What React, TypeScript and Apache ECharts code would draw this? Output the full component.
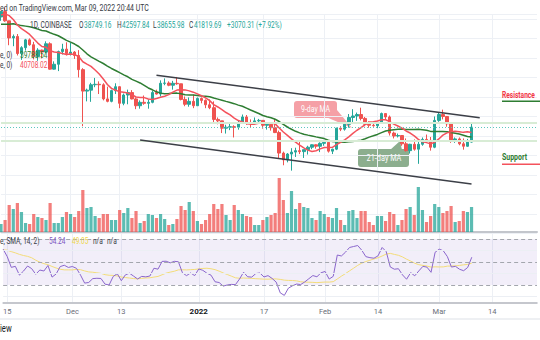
import React, { useEffect, useRef } from "react";
import * as echarts from "echarts";

// ---------- data ----------
const startDate = "2021-11-14";
const futureDays = 16; // empty days to the right of the last candle (to Mar 25)

const opens = [
  64400, 65500, 63600, 60100, 60400, 56900, 58100, 59700, 58700, 56300, 57600, 57200, 58900, 53700, 54700, 57300, 57800,
  56900, 57200, 56500, 53600, 49200, 49400, 50500, 50600, 50500, 47600, 47100, 49300, 50100, 46700, 48400, 48900, 47600,
  46200, 46900, 46700, 46900, 48900, 48600, 50800, 50850, 50400, 50800, 50700, 47500, 46500, 47100,
  46200, 47700, 47300, 46400, 45800, 43400, 43100, 41600, 41800, 41900, 41800, 42700, 43900, 42600, 42500, 43100, 43200,
  42200, 42400, 41700, 40700, 36500, 35100, 36300, 36700, 37000, 36800, 37200, 37700, 38200, 37900,
  38500, 38700, 36900, 37300, 41600, 41400, 42400, 43800, 44100, 44400, 43600, 42400, 42200, 42100, 42600, 44600, 43900,
  40600, 40000, 40100, 38400, 37000, 38300, 37300, 38300, 39300, 39100, 37700,
  43200, 44400, 44000, 42500, 39200, 39400, 38400, 37900, 38749.16,
];
const highs = [
  65500, 66300, 63600, 60800, 60900, 58400, 59900, 60000, 59300, 58000, 57700, 59400, 59200, 55300, 57500, 58900, 59200,
  59100, 57400, 57600, 53900, 49700, 50900, 51900, 51200, 50800, 50100, 49500, 50800, 50200, 48700, 49500, 49400, 47900,
  47300, 48300, 47500, 49300, 49500, 51400, 51800, 51200, 51300, 52100, 50700, 48100, 47900, 48500,
  47900, 47900, 47500, 47500, 47100, 43800, 43100, 42300, 42800, 42200, 43100, 44400, 44300, 43400, 43800, 43500, 43200,
  42700, 42600, 43500, 41100, 36800, 36500, 37500, 37600, 38900, 37200, 38000, 38300, 38300, 38700,
  39200, 38900, 37400, 41700, 42000, 42700, 44500, 45500, 44800, 45800, 43900, 43000, 42800, 42900, 44800, 44600, 44200,
  40900, 40500, 40200, 39500, 38400, 39300, 39000, 39700, 40300, 39800, 44000,
  44900, 45400, 44100, 42500, 39700, 39700, 39500, 39400, 42597.84,
];
const lows = [
  63600, 63400, 58600, 58400, 56500, 55600, 57500, 58500, 55700, 55400, 55900, 57000, 53600, 53600, 53300, 56700, 56500,
  56500, 55800, 52000, 42000, 47100, 47000, 50000, 48600, 47300, 46900, 46900, 48600, 45700, 46300, 46500, 47500, 45500,
  45600, 46400, 45600, 46700, 48500, 48100, 50400, 50200, 49500, 50500, 47300, 46100, 46000, 45700,
  46200, 46700, 45700, 45500, 42500, 42400, 40600, 40500, 41200, 39700, 41300, 42500, 42300, 41800, 42400, 42600, 41500,
  41300, 41100, 40600, 35500, 34000, 34600, 32900, 35700, 36300, 35500, 36200, 37300, 37400, 36700,
  38000, 36600, 36300, 37100, 41000, 41100, 41700, 42700, 43100, 43200, 42000, 41700, 41900, 41600, 42500, 43300, 40100,
  39500, 39700, 38000, 36800, 36400, 37000, 34300, 38000, 38600, 37000, 37500,
  42900, 43400, 41900, 38600, 38600, 38100, 37200, 37800, 38655.98,
];
const closes = [
  65500, 63600, 60100, 60400, 56900, 58100, 59700, 58700, 56300, 57600, 57200, 58900, 53700, 54700, 57300, 57800, 56900,
  57200, 56500, 53600, 49200, 49400, 50500, 50600, 50500, 47600, 47100, 49300, 50100, 46700, 48400, 48900, 47600, 46200,
  46900, 46700, 46900, 48900, 48600, 50800, 50850, 50400, 50800, 50700, 47500, 46500, 47100, 46200,
  47700, 47300, 46400, 45800, 43400, 43100, 41600, 41800, 41900, 41800, 42700, 43900, 42600, 42500, 43100, 43200, 42200,
  42400, 41700, 40700, 36500, 35100, 36300, 36700, 37000, 36800, 37200, 37700, 38200, 37900, 38500,
  38700, 36900, 37300, 41600, 41400, 42400, 43800, 44100, 44400, 43600, 42400, 42200, 42100, 42600, 44600, 43900, 40600,
  40000, 40100, 38400, 37000, 38300, 37300, 38300, 39300, 39100, 37700, 43200,
  44400, 44000, 42500, 39200, 39400, 38400, 37900, 38749.16, 41819.69,
];
const volumes = [
  8000, 12000, 27000, 23000, 29000, 20000, 9000, 8000, 18000, 15000, 14000, 12000, 29000, 9000, 9000, 15000, 20000,
  18000, 15000, 21000, 42000, 24000, 25000, 16000, 14000, 18000, 18000, 12000, 12000, 22000, 19000, 24000, 14000, 21000,
  9000, 11000, 18000, 17000, 14000, 18000, 13000, 7000, 8000, 13000, 26000, 22000, 30000, 21000,
  11000, 8000, 12000, 18000, 28000, 23000, 28000, 17000, 12000, 27000, 22000, 18000, 16000, 15000, 7000, 7000, 12000,
  15000, 17000, 19000, 54000, 32000, 19000, 41000, 23000, 29000, 25000, 24000, 14000, 12000, 21000,
  18000, 15000, 14000, 24000, 12000, 7000, 21000, 22000, 14000, 21000, 21000, 10000, 7000, 16000, 16000, 11000, 20000,
  18000, 7000, 12000, 23000, 25000, 17000, 45000, 22000, 10000, 16000, 28000,
  25000, 19000, 21000, 26000, 10000, 11000, 21000, 20000, 25000,
];
// closes of Oct 1 - Nov 13 2021, only used to warm up the moving averages and RSI
const priorCloses = [
  48100, 47700, 48200, 49200, 51500, 55300, 53800, 53900, 55000, 54700, 57500, 56000, 57400, 57300, 61700, 60900, 61500,
  62000, 64300, 66000, 62200, 60700, 61300, 60900, 63100, 60400, 58500, 60600, 62300, 61900, 61300, 61000, 63300, 62900,
  61400, 61000, 61500, 63300, 67600, 66900, 64900, 64800, 64200, 64400,
];
const tickLabels: Record<string, string> = {
  "2021-11-15": "15",
  "2021-12-01": "Dec",
  "2021-12-13": "13",
  "2022-01-01": "2022",
  "2022-01-17": "17",
  "2022-02-01": "Feb",
  "2022-02-14": "14",
  "2022-03-01": "Mar",
  "2022-03-14": "14",
};
const upperChannel: [string, number][] = [["2021-12-22", 52460], ["2022-03-11", 43720]];
const lowerChannel: [string, number][] = [["2021-12-18", 39160], ["2022-03-09", 30150]];
const levelLines = [42800, 38950];
const lastPrice = 41819.69;

// ---------- helpers ----------
function buildDates(start: string, n: number): string[] {
  const out: string[] = [];
  const d0 = new Date(start + "T00:00:00Z").getTime();
  for (let i = 0; i < n; i++) out.push(new Date(d0 + i * 86400000).toISOString().slice(0, 10));
  return out;
}
function sma(values: (number | null)[], period: number): (number | null)[] {
  return values.map((_, i) => {
    if (i < period - 1) return null;
    let s = 0;
    for (let k = i - period + 1; k <= i; k++) {
      const v = values[k];
      if (v == null) return null;
      s += v;
    }
    return s / period;
  });
}
function rsi(values: number[], period: number): (number | null)[] {
  const out: (number | null)[] = values.map(() => null);
  let ag = 0;
  let al = 0;
  for (let i = 1; i < values.length; i++) {
    const ch = values[i] - values[i - 1];
    const g = Math.max(ch, 0);
    const l = Math.max(-ch, 0);
    if (i <= period) {
      ag += g / period;
      al += l / period;
    } else {
      ag = (ag * (period - 1) + g) / period;
      al = (al * (period - 1) + l) / period;
    }
    if (i >= period) out[i] = al === 0 ? 100 : 100 - 100 / (1 + ag / al);
  }
  return out;
}

const UP = "#26a69a";
const DOWN = "#ef5350";
const FONT = "Roboto, 'DejaVu Sans', sans-serif";
const SX = 0.77; // the screenshot is horizontally condensed

function txt(x: number, y: number, text: string, fill: string, size = 8.5, extra: any = {}) {
  return {
    type: "text",
    x,
    y,
    scaleX: SX,
    z: 100,
    silent: true,
    style: { text, fill, fontSize: size, fontFamily: FONT, align: "left", verticalAlign: "middle", ...extra },
  };
}

export default function App() {
  const ref = useRef<HTMLDivElement>(null);

  useEffect(() => {
    document.body.style.margin = "0";
    if (!ref.current) return;
    const chart = echarts.init(ref.current, undefined, { renderer: "svg" });

    const n = closes.length;
    const dates = buildDates(startDate, n + futureDays);
    const allCloses = [...priorCloses, ...closes];
    const off = priorCloses.length;
    const ma9 = sma(allCloses, 9).slice(off);
    const ma21 = sma(allCloses, 21).slice(off);
    const rsiAll = rsi(allCloses, 14);
    const rsiMa = sma(rsiAll, 14).slice(off);
    const rsiVals = rsiAll.slice(off);

    const candle = opens.map((o, i) => [o, closes[i], lows[i], highs[i]]);
    const vol = volumes.map((v, i) => ({
      value: v,
      itemStyle: { color: closes[i] >= opens[i] ? "rgba(38,166,154,0.75)" : "rgba(239,83,80,0.75)" },
    }));

    const isTick = (_: number, v: string) => v in tickLabels;
    const gridX = { left: 1, width: 536 };
    const xBase = (gridIndex: number, labels: boolean, axisLine: any) => ({
      type: "category",
      gridIndex,
      data: dates,
      boundaryGap: false,
      axisTick: { show: false },
      axisLine,
      splitLine: { show: true, interval: isTick, lineStyle: { color: "#edf0f5", width: 1 } },
      axisLabel: labels
        ? {
            show: true,
            interval: isTick,
            formatter: (v: string) => (v === "2022-01-01" ? "{b|2022}" : tickLabels[v] || ""),
            color: "#6a6d78",
            fontSize: 7.5,
            fontFamily: FONT,
            margin: 5,
            rich: { b: { fontWeight: "bold", color: "#131722", fontSize: 8, fontFamily: FONT } },
          }
        : { show: false },
    });

    const option: any = {
      animation: false,
      backgroundColor: "#ffffff",
      textStyle: { fontFamily: FONT },
      grid: [
        { ...gridX, top: 14, height: 219.6 },
        { ...gridX, top: 120, height: 112 },
        { ...gridX, top: 233.25, height: 69 },
      ],
      xAxis: [
        xBase(0, false, { show: false }),
        xBase(1, false, { show: true, lineStyle: { color: "#c3c6cc", width: 2 } }),
        xBase(2, true, { show: true, lineStyle: { color: "#b2b5bd", width: 1.5 } }),
      ],
      yAxis: [
        {
          gridIndex: 0,
          min: 20000,
          max: 65000,
          interval: 4000,
          axisLabel: { show: false },
          axisLine: { show: false },
          axisTick: { show: false },
          splitLine: { show: true, lineStyle: { color: "#edf0f5" } },
        },
        { gridIndex: 1, min: 0, max: 112000, show: false, splitLine: { show: false } },
        { gridIndex: 2, min: 15, max: 75, show: false, splitLine: { show: false } },
      ],
      series: [
        {
          type: "bar",
          xAxisIndex: 1,
          yAxisIndex: 1,
          data: vol,
          barWidth: 3.2,
          z: 1,
        },
        {
          type: "candlestick",
          xAxisIndex: 0,
          yAxisIndex: 0,
          data: candle,
          barWidth: 3,
          z: 3,
          itemStyle: { color: UP, color0: DOWN, borderColor: UP, borderColor0: DOWN, borderWidth: 1 },
          markLine: {
            silent: true,
            symbol: ["none", "none"],
            label: { show: false },
            animation: false,
            data: [
              ...levelLines.map((p) => ({ yAxis: p, lineStyle: { color: "#d8ecd5", width: 2, type: "solid" } })),
              { yAxis: lastPrice, lineStyle: { color: "#5cc7bd", width: 1, type: [1, 2] } },
              [
                { coord: upperChannel[0], lineStyle: { color: "#3c3f47", width: 1.5, type: "solid" } },
                { coord: upperChannel[1] },
              ],
              [
                { coord: lowerChannel[0], lineStyle: { color: "#3c3f47", width: 1.5, type: "solid" } },
                { coord: lowerChannel[1] },
              ],
            ],
          },
        },
        {
          type: "line",
          name: "MA21",
          xAxisIndex: 0,
          yAxisIndex: 0,
          data: ma21,
          showSymbol: false,
          z: 4,
          lineStyle: { color: "#2e7d32", width: 1.5 },
        },
        {
          type: "line",
          name: "MA9",
          xAxisIndex: 0,
          yAxisIndex: 0,
          data: ma9,
          showSymbol: false,
          z: 4,
          lineStyle: { color: "#f4525c", width: 1.5 },
        },
        {
          type: "line",
          name: "RSI",
          xAxisIndex: 2,
          yAxisIndex: 2,
          data: rsiVals,
          showSymbol: false,
          z: 4,
          lineStyle: { color: "#8a66cc", width: 1 },
          markArea: {
            silent: true,
            itemStyle: { color: "rgba(126,87,194,0.1)" },
            data: [[{ yAxis: 30 }, { yAxis: 70 }]],
          },
          markLine: {
            silent: true,
            symbol: ["none", "none"],
            label: { show: false },
            data: [
              ...[20, 40, 60].map((v) => ({ yAxis: v, lineStyle: { color: "#eceff4", width: 1, type: "solid" } })),
              ...[30, 50, 70].map((v) => ({ yAxis: v, lineStyle: { color: "#a3a6ad", width: 1, type: [4, 3] } })),
            ],
          },
        },
        {
          type: "line",
          name: "RSI MA",
          xAxisIndex: 2,
          yAxisIndex: 2,
          data: rsiMa,
          showSymbol: false,
          z: 3,
          lineStyle: { color: "#f3dc78", width: 1 },
        },
      ],
      graphic: [
        { type: "rect", shape: { x: 0, y: 318, width: 540, height: 2 }, style: { fill: "#eef0f3" }, silent: true },
        txt(0, 8, "ed on TradingView.com, Mar 09, 2022 20:44 UTC", "#363a45", 9),
        txt(30, 25, "1D, COINBASE", "#363a45"),
        txt(79, 25, "O", "#363a45"),
        txt(84, 25, "38749.16", UP),
        txt(117, 25, "H", "#363a45"),
        txt(122, 25, "42597.84", UP),
        txt(153, 25, "L", "#363a45"),
        txt(157, 25, "38655.98", UP),
        txt(189, 25, "C", "#363a45"),
        txt(194, 25, "41819.69", UP),
        txt(227, 25, "+3070.31 (+7.92%)", UP),
        txt(0, 55, "e, 0)", "#363a45"),
        txt(20, 55, "39788.54", "#2e7d32"),
        txt(0, 65, "e, 0)", "#363a45"),
        txt(20, 65, "40708.02", "#f4525c"),
        txt(0, 241, "e, SMA, 14, 2)", "#363a45"),
        txt(49, 241, "54.24", "#7e57c2"),
        txt(72, 241, "49.05", "#efd64a"),
        txt(93, 241, "n/a", "#363a45"),
        txt(107, 241, "n/a", "#363a45"),
        txt(0, 329, "iew", "#131722", 10),
        // 9-day MA callout
        {
          type: "group",
          z: 90,
          silent: true,
          children: [
            { type: "polygon", shape: { points: [[326, 117], [337, 110], [352, 128]] }, style: { fill: "#f5a0a6" } },
            { type: "rect", shape: { x: 294, y: 101, width: 43, height: 17, r: 3 }, style: { fill: "#f5a0a6" } },
            {
              type: "text",
              x: 315.5,
              y: 109.5,
              scaleX: SX,
              style: { text: "9-day MA", fill: "#ffffff", fontSize: 9, fontFamily: FONT, align: "center", verticalAlign: "middle" },
            },
          ],
        },
        // 21-day MA callout
        {
          type: "group",
          z: 90,
          silent: true,
          children: [
            { type: "polygon", shape: { points: [[390, 150], [402, 150], [400, 141]] }, style: { fill: "#8cae8e" } },
            { type: "rect", shape: { x: 358, y: 149, width: 51, height: 18, r: 3 }, style: { fill: "#8cae8e" } },
            {
              type: "text",
              x: 384,
              y: 158,
              scaleX: SX,
              style: { text: "21-day MA", fill: "#ffffff", fontSize: 9.5, fontFamily: FONT, align: "center", verticalAlign: "middle" },
            },
          ],
        },
        // article overlay labels
        {
          type: "text",
          x: 502,
          y: 95,
          z: 90,
          scaleX: 0.78,
          silent: true,
          style: { text: "Resistance", fill: "#f23645", fontSize: 8.5, fontWeight: "bold", fontFamily: FONT, align: "left", verticalAlign: "middle" },
        },
        { type: "rect", z: 90, silent: true, shape: { x: 502, y: 100.5, width: 38, height: 1.6 }, style: { fill: "#2e7d32" } },
        {
          type: "text",
          x: 502,
          y: 157,
          z: 90,
          scaleX: 0.82,
          silent: true,
          style: { text: "Support", fill: "#2e7d32", fontSize: 8.5, fontWeight: "bold", fontFamily: FONT, align: "left", verticalAlign: "middle" },
        },
        { type: "rect", z: 90, silent: true, shape: { x: 502, y: 163.5, width: 38, height: 1.6 }, style: { fill: "#f4525c" } },
      ],
    };

    chart.setOption(option);
    return () => chart.dispose();
  }, []);

  return <div ref={ref} style={{ width: 540, height: 340 }} />;
}
